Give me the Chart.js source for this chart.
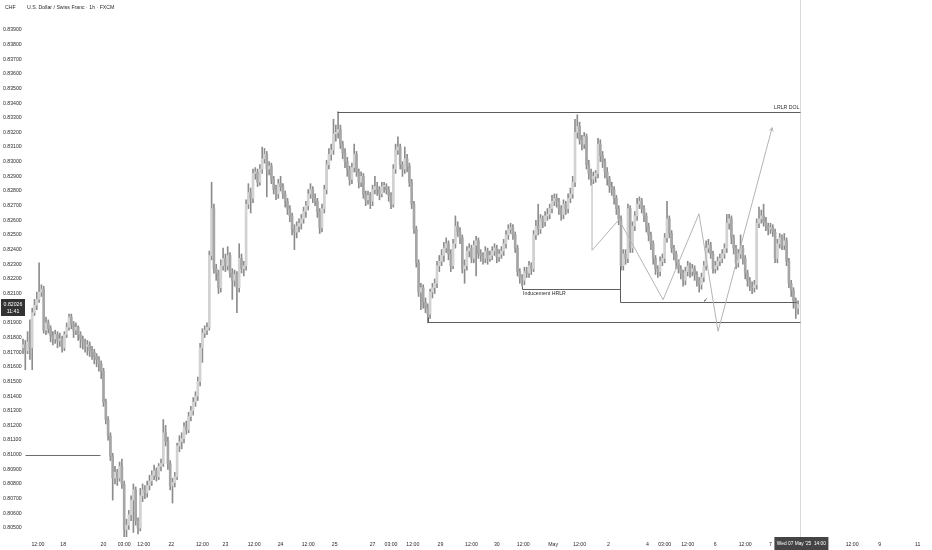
<!DOCTYPE html>
<html><head><meta charset="utf-8">
<script src="https://cdn.jsdelivr.net/npm/chart.js@4.4.1/dist/chart.umd.min.js"></script>
<style>html,body{margin:0;padding:0;background:#fff;}#wrap{width:932px;height:550px;position:relative;}</style>
</head><body><div id="wrap"><canvas id="c" width="932" height="550"></canvas></div>
<script>
// USD/CHF 1h candles (FXCM), oldest -> newest
const opens=[
0.8173,0.8175,0.8171,0.8177,0.8173,0.8197,0.8202,0.8206,0.8211,0.8213,
0.8185,0.8190,0.8186,0.8181,0.8179,0.8182,0.8178,0.8179,0.8173,0.8182,
0.8187,0.8194,0.8189,0.8185,0.8187,0.8182,0.8179,0.8177,0.8174,0.8175,
0.8171,0.8170,0.8167,0.8165,0.8162,0.8157,0.8136,0.8124,0.8113,0.8099,
0.8084,0.8088,0.8084,0.8092,0.8080,0.8049,0.8052,0.8059,0.8069,0.8076,
0.8055,0.8050,0.8072,0.8076,0.8074,0.8079,0.8082,0.8086,0.8089,0.8085,
0.8092,0.8094,0.8115,0.8109,0.8094,0.8079,0.8081,0.8085,0.8106,0.8109,
0.8111,0.8119,0.8117,0.8126,0.8130,0.8136,0.8140,0.8150,0.8173,0.8183,
0.8185,0.8187,0.8236,0.8268,0.8227,0.8224,0.8214,0.8229,0.8234,0.8229,
0.8236,0.8224,0.8219,0.8223,0.8214,0.8234,0.8227,0.8229,0.8271,0.8279,
0.8275,0.8292,0.8293,0.8286,0.8295,0.8302,0.8305,0.8295,0.8297,0.8288,
0.8281,0.8278,0.8285,0.8283,0.8278,0.8273,0.8268,0.8263,0.8254,0.8252,
0.8256,0.8258,0.8261,0.8266,0.8270,0.8278,0.8281,0.8275,0.8273,0.8266,
0.8255,0.8268,0.8281,0.8298,0.8305,0.8308,0.8319,0.8320,0.8322,0.8312,
0.8306,0.8300,0.8295,0.8288,0.8296,0.8305,0.8293,0.8286,0.8290,0.8278,
0.8274,0.8277,0.8273,0.8281,0.8283,0.8281,0.8278,0.8283,0.8283,0.8281,
0.8277,0.8271,0.8295,0.8308,0.8310,0.8298,0.8295,0.8302,0.8297,0.8286,
0.8271,0.8254,0.8231,0.8211,0.8214,0.8204,0.8200,0.8196,0.8211,0.8214,
0.8217,0.8229,0.8232,0.8236,0.8241,0.8244,0.8237,0.8229,0.8244,0.8256,
0.8252,0.8248,0.8227,0.8229,0.8239,0.8241,0.8234,0.8243,0.8246,0.8237,
0.8236,0.8234,0.8239,0.8234,0.8236,0.8239,0.8241,0.8235,0.8237,0.8239,
0.8244,0.8250,0.8254,0.8255,0.8250,0.8241,0.8225,0.8221,0.8219,0.8225,
0.8224,0.8229,0.8227,0.8250,0.8256,0.8254,0.8261,0.8259,0.8263,0.8264,
0.8268,0.8273,0.8275,0.8273,0.8268,0.8264,0.8271,0.8268,0.8275,0.8278,
0.8286,0.8320,0.8324,0.8315,0.8312,0.8317,0.8298,0.8292,0.8288,0.8290,
0.8292,0.8312,0.8304,0.8300,0.8293,0.8288,0.8283,0.8281,0.8275,0.8268,
0.8261,0.8229,0.8237,0.8234,0.8268,0.8241,0.8256,0.8263,0.8271,0.8273,
0.8268,0.8263,0.8256,0.8250,0.8244,0.8234,0.8227,0.8225,0.8232,0.8234,
0.8248,0.8261,0.8251,0.8241,0.8237,0.8231,0.8227,0.8224,0.8219,0.8225,
0.8229,0.8225,0.8227,0.8223,0.8219,0.8216,0.8221,0.8229,0.8241,0.8243,
0.8237,0.8227,0.8229,0.8232,0.8234,0.8237,0.8241,0.8258,0.8261,0.8248,
0.8241,0.8231,0.8237,0.8241,0.8234,0.8224,0.8219,0.8215,0.8214,0.8216,
0.8258,0.8261,0.8263,0.8259,0.8256,0.8254,0.8255,0.8252,0.8234,0.8244,
0.8248,0.8243,0.8246,0.8232,0.8217,0.8212,0.8205,0.8200];
const highs=[
0.8179,0.8178,0.8184,0.8192,0.8200,0.8206,0.8211,0.8231,0.8216,0.8215,
0.8194,0.8192,0.8188,0.8184,0.8185,0.8184,0.8183,0.8181,0.8184,0.8190,
0.8196,0.8196,0.8191,0.8190,0.8188,0.8184,0.8181,0.8179,0.8178,0.8177,
0.8174,0.8172,0.8169,0.8167,0.8164,0.8159,0.8138,0.8126,0.8115,0.8101,
0.8092,0.8090,0.8095,0.8097,0.8082,0.8056,0.8062,0.8072,0.8080,0.8078,
0.8057,0.8077,0.8080,0.8079,0.8082,0.8086,0.8089,0.8093,0.8091,0.8094,
0.8097,0.8124,0.8120,0.8112,0.8096,0.8084,0.8088,0.8108,0.8113,0.8115,
0.8122,0.8123,0.8129,0.8133,0.8139,0.8143,0.8153,0.8176,0.8186,0.8188,
0.8190,0.8239,0.8286,0.8271,0.8230,0.8226,0.8233,0.8241,0.8237,0.8242,
0.8238,0.8227,0.8226,0.8225,0.8244,0.8237,0.8232,0.8274,0.8285,0.8282,
0.8295,0.8296,0.8295,0.8298,0.8310,0.8309,0.8307,0.8300,0.8299,0.8290,
0.8284,0.8288,0.8290,0.8285,0.8280,0.8275,0.8270,0.8265,0.8257,0.8259,
0.8261,0.8264,0.8269,0.8273,0.8281,0.8285,0.8283,0.8278,0.8275,0.8268,
0.8271,0.8284,0.8301,0.8309,0.8312,0.8329,0.8325,0.8334,0.8325,0.8314,
0.8309,0.8303,0.8297,0.8299,0.8312,0.8307,0.8295,0.8293,0.8292,0.8280,
0.8280,0.8279,0.8284,0.8290,0.8286,0.8283,0.8286,0.8286,0.8285,0.8283,
0.8279,0.8298,0.8312,0.8317,0.8312,0.8300,0.8310,0.8305,0.8299,0.8288,
0.8273,0.8256,0.8233,0.8217,0.8216,0.8207,0.8203,0.8213,0.8217,0.8220,
0.8232,0.8236,0.8240,0.8245,0.8248,0.8246,0.8240,0.8247,0.8263,0.8259,
0.8255,0.8250,0.8233,0.8242,0.8244,0.8243,0.8246,0.8249,0.8248,0.8240,
0.8238,0.8242,0.8241,0.8239,0.8242,0.8244,0.8243,0.8240,0.8242,0.8247,
0.8253,0.8257,0.8258,0.8257,0.8252,0.8243,0.8227,0.8223,0.8228,0.8228,
0.8232,0.8231,0.8253,0.8260,0.8271,0.8264,0.8263,0.8266,0.8268,0.8271,
0.8277,0.8278,0.8278,0.8275,0.8270,0.8274,0.8273,0.8278,0.8282,0.8290,
0.8329,0.8332,0.8327,0.8318,0.8320,0.8319,0.8301,0.8295,0.8293,0.8294,
0.8316,0.8315,0.8307,0.8302,0.8296,0.8290,0.8286,0.8283,0.8277,0.8270,
0.8263,0.8240,0.8240,0.8271,0.8270,0.8259,0.8266,0.8275,0.8276,0.8275,
0.8270,0.8265,0.8258,0.8252,0.8246,0.8236,0.8229,0.8235,0.8237,0.8251,
0.8273,0.8263,0.8253,0.8243,0.8239,0.8233,0.8229,0.8226,0.8228,0.8232,
0.8231,0.8230,0.8229,0.8225,0.8221,0.8224,0.8232,0.8246,0.8247,0.8245,
0.8239,0.8232,0.8235,0.8237,0.8240,0.8244,0.8264,0.8264,0.8263,0.8250,
0.8243,0.8240,0.8250,0.8243,0.8236,0.8226,0.8221,0.8218,0.8219,0.8261,
0.8269,0.8267,0.8271,0.8262,0.8258,0.8258,0.8257,0.8254,0.8247,0.8251,
0.8250,0.8251,0.8248,0.8234,0.8219,0.8214,0.8207,0.8205];
const lows=[
0.8169,0.8158,0.8169,0.8165,0.8158,0.8195,0.8199,0.8204,0.8208,0.8183,
0.8182,0.8183,0.8177,0.8175,0.8176,0.8173,0.8174,0.8170,0.8171,0.8180,
0.8185,0.8186,0.8180,0.8182,0.8178,0.8173,0.8172,0.8170,0.8168,0.8167,
0.8165,0.8162,0.8160,0.8157,0.8152,0.8133,0.8121,0.8110,0.8096,0.8069,
0.8080,0.8079,0.8082,0.8077,0.8044,0.8044,0.8049,0.8055,0.8047,0.8052,
0.8046,0.8048,0.8068,0.8070,0.8071,0.8076,0.8079,0.8083,0.8082,0.8083,
0.8089,0.8092,0.8106,0.8090,0.8076,0.8067,0.8078,0.8083,0.8102,0.8104,
0.8108,0.8114,0.8115,0.8123,0.8127,0.8133,0.8137,0.8147,0.8163,0.8180,
0.8182,0.8185,0.8233,0.8224,0.8219,0.8210,0.8211,0.8226,0.8225,0.8226,
0.8221,0.8206,0.8215,0.8197,0.8211,0.8224,0.8222,0.8226,0.8268,0.8265,
0.8272,0.8288,0.8283,0.8284,0.8292,0.8299,0.8276,0.8291,0.8285,0.8278,
0.8274,0.8275,0.8280,0.8275,0.8269,0.8264,0.8259,0.8250,0.8240,0.8248,
0.8252,0.8254,0.8258,0.8262,0.8267,0.8275,0.8272,0.8270,0.8262,0.8251,
0.8252,0.8265,0.8278,0.8295,0.8301,0.8305,0.8314,0.8316,0.8309,0.8302,
0.8296,0.8290,0.8284,0.8285,0.8293,0.8290,0.8282,0.8283,0.8275,0.8270,
0.8271,0.8268,0.8270,0.8278,0.8277,0.8274,0.8276,0.8279,0.8278,0.8273,
0.8268,0.8269,0.8292,0.8305,0.8295,0.8290,0.8292,0.8293,0.8283,0.8268,
0.8251,0.8228,0.8208,0.8199,0.8200,0.8197,0.8190,0.8193,0.8207,0.8210,
0.8214,0.8225,0.8229,0.8232,0.8238,0.8233,0.8225,0.8227,0.8241,0.8249,
0.8244,0.8224,0.8217,0.8226,0.8235,0.8231,0.8231,0.8222,0.8234,0.8232,
0.8230,0.8231,0.8230,0.8232,0.8233,0.8236,0.8231,0.8232,0.8234,0.8236,
0.8241,0.8247,0.8251,0.8247,0.8238,0.8222,0.8217,0.8215,0.8216,0.8221,
0.8221,0.8223,0.8225,0.8247,0.8250,0.8251,0.8255,0.8256,0.8260,0.8261,
0.8265,0.8270,0.8269,0.8264,0.8260,0.8261,0.8264,0.8265,0.8272,0.8275,
0.8283,0.8316,0.8312,0.8308,0.8309,0.8295,0.8288,0.8284,0.8285,0.8286,
0.8289,0.8300,0.8296,0.8289,0.8284,0.8279,0.8277,0.8271,0.8264,0.8257,
0.8226,0.8226,0.8230,0.8231,0.8238,0.8238,0.8253,0.8260,0.8268,0.8265,
0.8259,0.8252,0.8246,0.8240,0.8230,0.8223,0.8221,0.8222,0.8229,0.8231,
0.8245,0.8248,0.8238,0.8233,0.8227,0.8224,0.8220,0.8215,0.8216,0.8222,
0.8221,0.8222,0.8219,0.8215,0.8211,0.8213,0.8218,0.8226,0.8238,0.8234,
0.8224,0.8224,0.8226,0.8229,0.8231,0.8234,0.8238,0.8254,0.8244,0.8237,
0.8227,0.8228,0.8234,0.8230,0.8220,0.8215,0.8212,0.8210,0.8211,0.8213,
0.8255,0.8258,0.8256,0.8253,0.8250,0.8251,0.8249,0.8231,0.8231,0.8241,
0.8240,0.8240,0.8229,0.8214,0.8208,0.8200,0.8193,0.8196];
const closes=[
0.8175,0.8171,0.8177,0.8173,0.8197,0.8202,0.8206,0.8211,0.8213,0.8185,
0.8190,0.8186,0.8181,0.8179,0.8182,0.8178,0.8179,0.8173,0.8182,0.8187,
0.8194,0.8189,0.8185,0.8187,0.8182,0.8179,0.8177,0.8174,0.8175,0.8171,
0.8170,0.8167,0.8165,0.8162,0.8157,0.8136,0.8124,0.8113,0.8099,0.8084,
0.8088,0.8084,0.8092,0.8080,0.8049,0.8052,0.8059,0.8069,0.8076,0.8055,
0.8050,0.8072,0.8076,0.8074,0.8079,0.8082,0.8086,0.8089,0.8085,0.8092,
0.8094,0.8115,0.8109,0.8094,0.8079,0.8081,0.8085,0.8106,0.8109,0.8111,
0.8119,0.8117,0.8126,0.8130,0.8136,0.8140,0.8150,0.8173,0.8183,0.8185,
0.8187,0.8236,0.8268,0.8227,0.8224,0.8214,0.8229,0.8234,0.8229,0.8236,
0.8224,0.8219,0.8223,0.8214,0.8234,0.8227,0.8229,0.8271,0.8279,0.8275,
0.8292,0.8293,0.8286,0.8295,0.8302,0.8305,0.8295,0.8297,0.8288,0.8281,
0.8278,0.8285,0.8283,0.8278,0.8273,0.8268,0.8263,0.8254,0.8252,0.8256,
0.8258,0.8261,0.8266,0.8270,0.8278,0.8281,0.8275,0.8273,0.8266,0.8255,
0.8268,0.8281,0.8298,0.8305,0.8308,0.8319,0.8320,0.8322,0.8312,0.8306,
0.8300,0.8295,0.8288,0.8296,0.8305,0.8293,0.8286,0.8290,0.8278,0.8274,
0.8277,0.8273,0.8281,0.8283,0.8281,0.8278,0.8283,0.8283,0.8281,0.8277,
0.8271,0.8295,0.8308,0.8310,0.8298,0.8295,0.8302,0.8297,0.8286,0.8271,
0.8254,0.8231,0.8211,0.8214,0.8204,0.8200,0.8196,0.8211,0.8214,0.8217,
0.8229,0.8232,0.8236,0.8241,0.8244,0.8237,0.8229,0.8244,0.8256,0.8252,
0.8248,0.8227,0.8229,0.8239,0.8241,0.8234,0.8243,0.8246,0.8237,0.8236,
0.8234,0.8239,0.8234,0.8236,0.8239,0.8241,0.8235,0.8237,0.8239,0.8244,
0.8250,0.8254,0.8255,0.8250,0.8241,0.8225,0.8221,0.8219,0.8225,0.8224,
0.8229,0.8227,0.8250,0.8256,0.8254,0.8261,0.8259,0.8263,0.8264,0.8268,
0.8273,0.8275,0.8273,0.8268,0.8264,0.8271,0.8268,0.8275,0.8278,0.8286,
0.8320,0.8324,0.8315,0.8312,0.8317,0.8298,0.8292,0.8288,0.8290,0.8292,
0.8312,0.8304,0.8300,0.8293,0.8288,0.8283,0.8281,0.8275,0.8268,0.8261,
0.8229,0.8237,0.8234,0.8268,0.8241,0.8256,0.8263,0.8271,0.8273,0.8268,
0.8263,0.8256,0.8250,0.8244,0.8234,0.8227,0.8225,0.8232,0.8234,0.8248,
0.8261,0.8251,0.8241,0.8237,0.8231,0.8227,0.8224,0.8219,0.8225,0.8229,
0.8225,0.8227,0.8223,0.8219,0.8216,0.8221,0.8229,0.8241,0.8243,0.8237,
0.8227,0.8229,0.8232,0.8234,0.8237,0.8241,0.8258,0.8261,0.8248,0.8241,
0.8231,0.8237,0.8241,0.8234,0.8224,0.8219,0.8215,0.8214,0.8216,0.8258,
0.8261,0.8263,0.8259,0.8256,0.8254,0.8255,0.8252,0.8234,0.8244,0.8248,
0.8243,0.8246,0.8232,0.8217,0.8212,0.8205,0.8200,0.82026];

// price axis tick values
const yTicks=[0.805,0.806,0.807,0.808,0.809,0.810,0.811,0.812,0.813,0.814,0.815,0.816,0.817,0.818,0.819,0.820,0.821,0.822,0.823,0.824,0.825,0.826,0.827,0.828,0.829,0.830,0.831,0.832,0.833,0.834,0.835,0.836,0.837,0.838,0.839];
// time axis: positions in bar units, and their labels
const tickPos=[6.5,17.5,35,44,52.5,64.5,78,88,100.5,112,124,135.5,152,160,169.5,181.5,195,206,217.5,230.5,242,254.5,271.5,279,289,301,314,325,360.5,372.5,389];
const tickLabels=['12:00','18','20','03:00','12:00','22','12:00','23','12:00','24','12:00','25','27','03:00','12:00','29','12:00','30','12:00','May','12:00','2','4','03:00','12:00','6','12:00','7','12:00','9','11'];

// drawn annotations, in (bar, price)
const dolLine=[[136.6,0.8334],[338,0.8334]];
const hrlrLine=[[217,0.8215],[217,0.82132],[259.6,0.82132]];
const sweepLine=[[259.6,0.82287],[259.6,0.82044],[336,0.82044]];
const lowLine=[[176,0.8194],[176,0.81903],[338,0.81903]];
const leftLine=[[1,0.8100],[33.5,0.8100]];
const zigzag=[[247.4,0.82861],[247.4,0.82395],[259.1,0.82604],[278.3,0.82058],[293.9,0.82645],[302.2,0.81842],[325.7,0.83232]];
const checkMark=[296.7,0.82044];
const cursorBar=338;
const cursorText="Wed 07 May '25  14:00";
const countdown='11:41';
const FONT='"Liberation Sans", Arial, sans-serif';
const TXT='#2a2a2a';

const annot={
  id:'annot',
  afterDatasetsDraw(chart){
    const {ctx,scales:{x,y},chartArea}=chart;
    const X=v=>x.getPixelForValue(v), Y=v=>y.getPixelForValue(v);
    ctx.save();
    const cx=Math.round(X(cursorBar))+0.5;
    ctx.strokeStyle='#d9d9d9';ctx.lineWidth=1;
    ctx.beginPath();ctx.moveTo(cx,0);ctx.lineTo(cx,chartArea.bottom);ctx.stroke();
    const poly=(pts,color,snap)=>{
      ctx.strokeStyle=color;ctx.lineWidth=1;ctx.beginPath();
      pts.forEach((p,k)=>{let px=X(p[0]),py=Y(p[1]);if(snap){px=Math.round(px)+0.5;py=Math.round(py)+0.5;}k?ctx.lineTo(px,py):ctx.moveTo(px,py);});
      ctx.stroke();
    };
    poly(dolLine,'#5e5e5e',true);
    poly(hrlrLine,'#5e5e5e',true);
    poly(sweepLine,'#5e5e5e',true);
    poly(lowLine,'#5e5e5e',true);
    poly(leftLine,'#6e6e6e',true);
    poly(zigzag,'#b4b4b4',false);
    const a=zigzag[zigzag.length-2],b=zigzag[zigzag.length-1];
    const ax=X(a[0]),ay=Y(a[1]),bx=X(b[0]),by=Y(b[1]);
    const ang=Math.atan2(by-ay,bx-ax);
    ctx.strokeStyle='#b4b4b4';ctx.beginPath();
    ctx.moveTo(bx-4*Math.cos(ang-0.5),by-4*Math.sin(ang-0.5));ctx.lineTo(bx,by);
    ctx.lineTo(bx-4*Math.cos(ang+0.5),by-4*Math.sin(ang+0.5));ctx.stroke();
    ctx.fillStyle=TXT;ctx.font='5.2px '+FONT;
    ctx.textAlign='right';ctx.textBaseline='bottom';
    ctx.fillText('LRLR DOL',X(dolLine[1][0])-1,Y(dolLine[1][1])-2);
    ctx.textAlign='left';ctx.textBaseline='top';
    ctx.fillText('Inducement HRLR',X(hrlrLine[1][0])+1,Y(hrlrLine[1][1])+2);
    ctx.font='6px "DejaVu Sans", sans-serif';ctx.textAlign='center';ctx.textBaseline='middle';
    ctx.fillText('\u2713',X(checkMark[0]),Y(checkMark[1])-1);
    ctx.restore();
  },
  afterDraw(chart){
    const {ctx,scales:{x,y},chartArea}=chart;
    ctx.save();
    ctx.font='5.2px '+FONT;ctx.fillStyle=TXT;ctx.textBaseline='middle';ctx.textAlign='left';
    ctx.fillText('CHF',5,8);
    ctx.fillText('U.S. Dollar / Swiss Franc \u00b7 1h \u00b7 FXCM',27,8);
    const last=closes[closes.length-1];
    const py=Math.round(y.getPixelForValue(last));
    ctx.fillStyle='#333';ctx.fillRect(1,py-5,24,17);
    ctx.fillStyle='#fff';ctx.textAlign='center';
    ctx.fillText(last.toFixed(5),13,py+0.5);
    ctx.fillText(countdown,13,py+7.5);
    const cx=x.getPixelForValue(cursorBar);
    ctx.font='4.8px '+FONT;
    ctx.fillStyle='#444';ctx.fillRect(cx-26,chartArea.bottom,54,13);
    ctx.fillStyle='#fff';ctx.fillText(cursorText,cx+1,chartArea.bottom+6.5);
    ctx.restore();
  }
};

const bars=closes.map((c,i)=>i);
new Chart(document.getElementById('c'),{
  type:'bar',
  data:{datasets:[
    {label:'wick',data:bars.map(i=>({x:i,y:[lows[i],highs[i]]})),backgroundColor:'#8c8c8c',barThickness:1,grouped:false,order:1},
    {label:'body',data:bars.map(i=>({x:i,y:[opens[i],closes[i]]})),
     backgroundColor:bars.map(i=>closes[i]>=opens[i]?'#d2d2d2':'#a6a6a6'),barThickness:2,minBarLength:1,grouped:false,order:0}
  ]},
  options:{
    responsive:false,animation:false,devicePixelRatio:1,
    layout:{padding:0},
    plugins:{legend:{display:false},tooltip:{enabled:false}},
    scales:{
      x:{type:'linear',min:-10,max:395.217,offset:false,
        grid:{display:false,drawTicks:false},border:{display:false},
        afterBuildTicks:s=>{s.ticks=tickPos.map(v=>({value:v}));},
        afterFit:s=>{s.height=13;},
        ticks:{autoSkip:false,maxRotation:0,padding:4,color:TXT,font:{size:5.2,family:FONT},
          callback:(v,i)=>tickLabels[i]}},
      y:{type:'linear',position:'left',min:0.804384,max:0.840619,
        grid:{display:false,drawTicks:false},border:{display:false},
        afterBuildTicks:s=>{s.ticks=yTicks.map(v=>({value:v}));},
        afterFit:s=>{s.width=0;},
        ticks:{mirror:true,padding:3,color:TXT,font:{size:5.2,family:FONT},
          callback:v=>v.toFixed(5)}}
    }
  },
  plugins:[annot]
});
</script></body></html>
